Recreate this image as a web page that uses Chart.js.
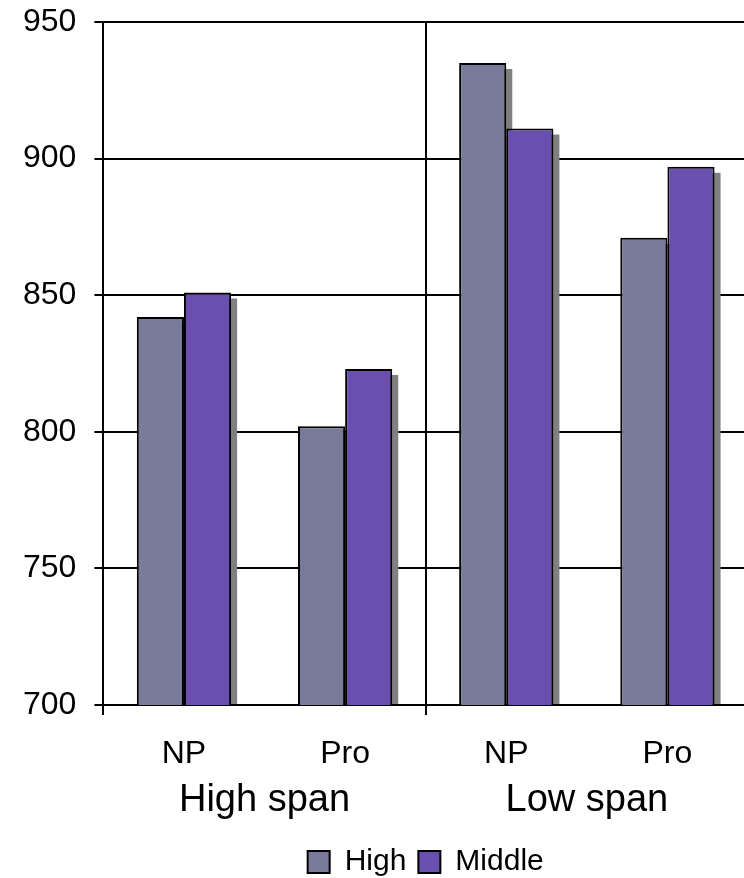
<!DOCTYPE html>
<html>
<head>
<meta charset="utf-8">
<script src="https://cdn.jsdelivr.net/npm/chart.js@4/dist/chart.umd.min.js"></script>
<style>
  html, body { margin: 0; padding: 0; overflow: hidden; background: #fff; }
  canvas { display: block; }
</style>
</head>
<body>
<canvas id="c" width="750" height="887"></canvas>
<script>
// Condition labels within each span group
const conditions = ['NP', 'Pro', 'NP', 'Pro'];
// Span groups shown beneath the condition labels
const spanGroups = ['High span', 'Low span'];
// Series values
const seriesNames = ['High', 'Middle'];
const highValues = [842, 802, 935, 871];
const middleValues = [851, 823, 911, 897];
// Value axis
const yMin = 700, yMax = 950, yStep = 50;

const FONT = '"Liberation Sans", Arial, Helvetica, sans-serif';

// Grey drop shadow behind every bar, stopping at the category axis
const barShadow = {
  id: 'barShadow',
  beforeDatasetsDraw(chart) {
    const ctx = chart.ctx;
    const bottom = chart.chartArea.bottom;
    ctx.save();
    ctx.fillStyle = '#808080';
    chart.data.datasets.forEach((ds, i) => {
      const meta = chart.getDatasetMeta(i);
      meta.data.forEach(bar => {
        const p = bar.getProps(['x', 'y', 'width'], true);
        const left = p.x - p.width / 2 + 6;
        const top = p.y + 6;
        ctx.fillRect(left, top, p.width, bottom - top - 1);
      });
    });
    ctx.restore();
  }
};

new Chart(document.getElementById('c'), {
  type: 'bar',
  data: {
    labels: conditions,
    datasets: [
      { label: seriesNames[0], data: highValues, backgroundColor: '#7a7a9a', borderColor: '#000', borderWidth: 2, borderSkipped: false },
      { label: seriesNames[1], data: middleValues, backgroundColor: '#6a4fae', borderColor: '#000', borderWidth: 2, borderSkipped: false }
    ]
  },
  options: {
    responsive: false,
    animation: false,
    devicePixelRatio: 1,
    layout: { padding: { left: 5, right: 2, top: 22, bottom: 0 } },
    datasets: { bar: { categoryPercentage: 0.585, barPercentage: 1 } },
    plugins: {
      tooltip: { enabled: false },
      legend: {
        position: 'bottom',
        fullSize: false,
        labels: {
          color: '#000',
          boxWidth: 22,
          boxHeight: 22,
          padding: 12,
          font: { family: FONT, size: 30 }
        }
      }
    },
    scales: {
      y: {
        min: yMin,
        max: yMax,
        ticks: { stepSize: yStep, color: '#000', padding: 18, font: { family: FONT, size: 32 } },
        grid: { color: '#000', lineWidth: 2, tickLength: 9, tickColor: '#000' },
        border: { display: true, color: '#000', width: 2 },
        afterFit(scale) { scale.paddingTop = 0; scale.paddingBottom = 0; }
      },
      x: {
        weight: 0,
        ticks: { color: '#000', padding: 20, font: { family: FONT, size: 32 } },
        grid: {
          offset: true,
          lineWidth: 2,
          tickLength: 10,
          color: ctx => (ctx.index === 2 ? '#000' : 'rgba(0,0,0,0)'),
          tickColor: ctx => (ctx.index % 2 === 0 ? '#000' : 'rgba(0,0,0,0)')
        },
        border: { display: true, color: '#000', width: 2 },
        afterFit(scale) { scale.height = 68; }
      },
      group: {
        type: 'category',
        position: 'bottom',
        weight: 1,
        labels: spanGroups,
        offset: true,
        ticks: { color: '#000', padding: 5, font: { family: FONT, size: 38 } },
        grid: { display: false, drawTicks: false, tickLength: 0 },
        border: { display: false },
        afterFit(scale) { scale.height = 62; }
      }
    }
  },
  plugins: [barShadow]
});
</script>
</body>
</html>
